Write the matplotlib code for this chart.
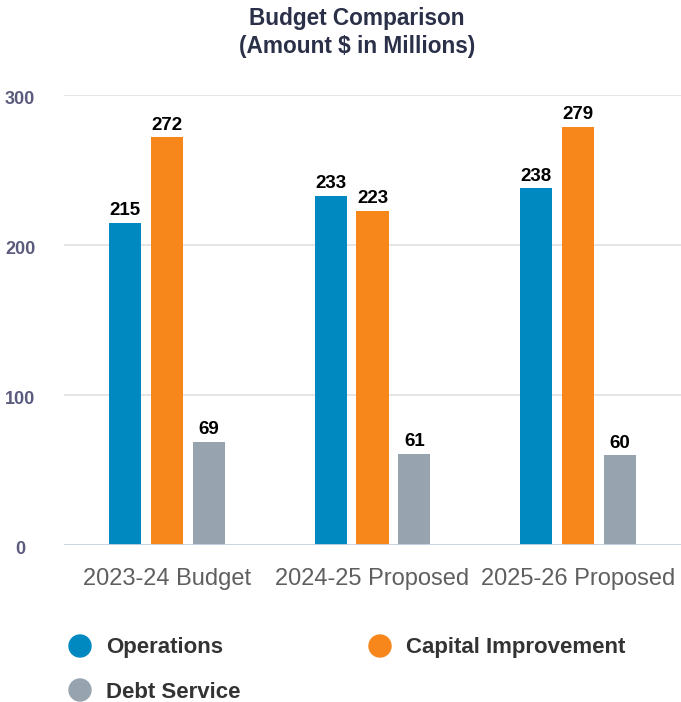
import numpy as np
import matplotlib
matplotlib.use("Agg")
import matplotlib.pyplot as plt
from matplotlib.patches import Ellipse

plt.rcParams["font.family"] = ["Liberation Sans", "DejaVu Sans"]

categories = ["2023-24 Budget", "2024-25 Proposed", "2025-26 Proposed"]
series = ["Operations", "Capital Improvement", "Debt Service"]
operations = [215, 233, 238]
capital = [272, 223, 279]
debt = [69, 61, 60]
colors = ["#0088c0", "#f7861b", "#97a3ae"]
yticks = [0, 100, 200, 300]

W, H = 681, 702
fig = plt.figure(figsize=(W / 100, H / 100), dpi=100)
ax = fig.add_axes([64 / W, (H - 545) / H, 1 - 64 / W, 450 / H])

x = np.arange(len(categories))
bw, off = 0.156, 0.204
for i, (vals, c) in enumerate(zip([operations, capital, debt], colors)):
    xs = x + (i - 1) * off
    ax.bar(xs, vals, width=bw, color=c, zorder=3)
    for xi, v in zip(xs, vals):
        ax.annotate(str(v), (xi, v), xytext=(0, 2.5), textcoords="offset points",
                    ha="center", va="bottom", fontsize=13.5, fontweight="bold", color="#000000")

ax.set_xlim(-0.5, 2.5); ax.set_ylim(0, 300)
ax.set_yticks(yticks)
ax.set_yticklabels([])
for t in yticks:
    ax.axhline(t, color="#e0e0e0", lw=1.2, zorder=1)
    ax.text(20 / W, (H - 545 + t * 1.5 - 5) / H, str(t), transform=fig.transFigure,
            ha="center", va="center", fontsize=13, fontweight="bold", color="#5b5b7e")
ax.axhline(0, color="#c8d3e3", lw=2, zorder=4)
ax.tick_params(length=0)
ax.set_xticks(x)
ax.set_xticklabels(categories, fontsize=17, color="#5f5f5f")
ax.tick_params(axis="x", pad=16.5)
for s in ax.spines.values():
    s.set_visible(False)

fig.text(357 / W, 1 - 19 / H, "Budget Comparison", ha="center", va="center",
         fontsize=16.3, fontweight="bold", color="#2b3049")
fig.text(357 / W, 1 - 47 / H, "(Amount $ in Millions)", ha="center", va="center",
         fontsize=16.3, fontweight="bold", color="#2b3049")

# legend
legpos = [(80, 646), (380, 646), (80, 690)]
for name, c, (lx, ly) in zip(series, colors, legpos):
    fig.patches.append(Ellipse((lx / W, 1 - ly / H), 22 / W, 22 / H, transform=fig.transFigure,
                               color=c, figure=fig))
    fig.text((lx + 26) / W, 1 - (ly + 2) / H, name, ha="left", va="center",
             fontsize=16, fontweight="bold", color="#333333")

fig.savefig("out.png", dpi=100)
